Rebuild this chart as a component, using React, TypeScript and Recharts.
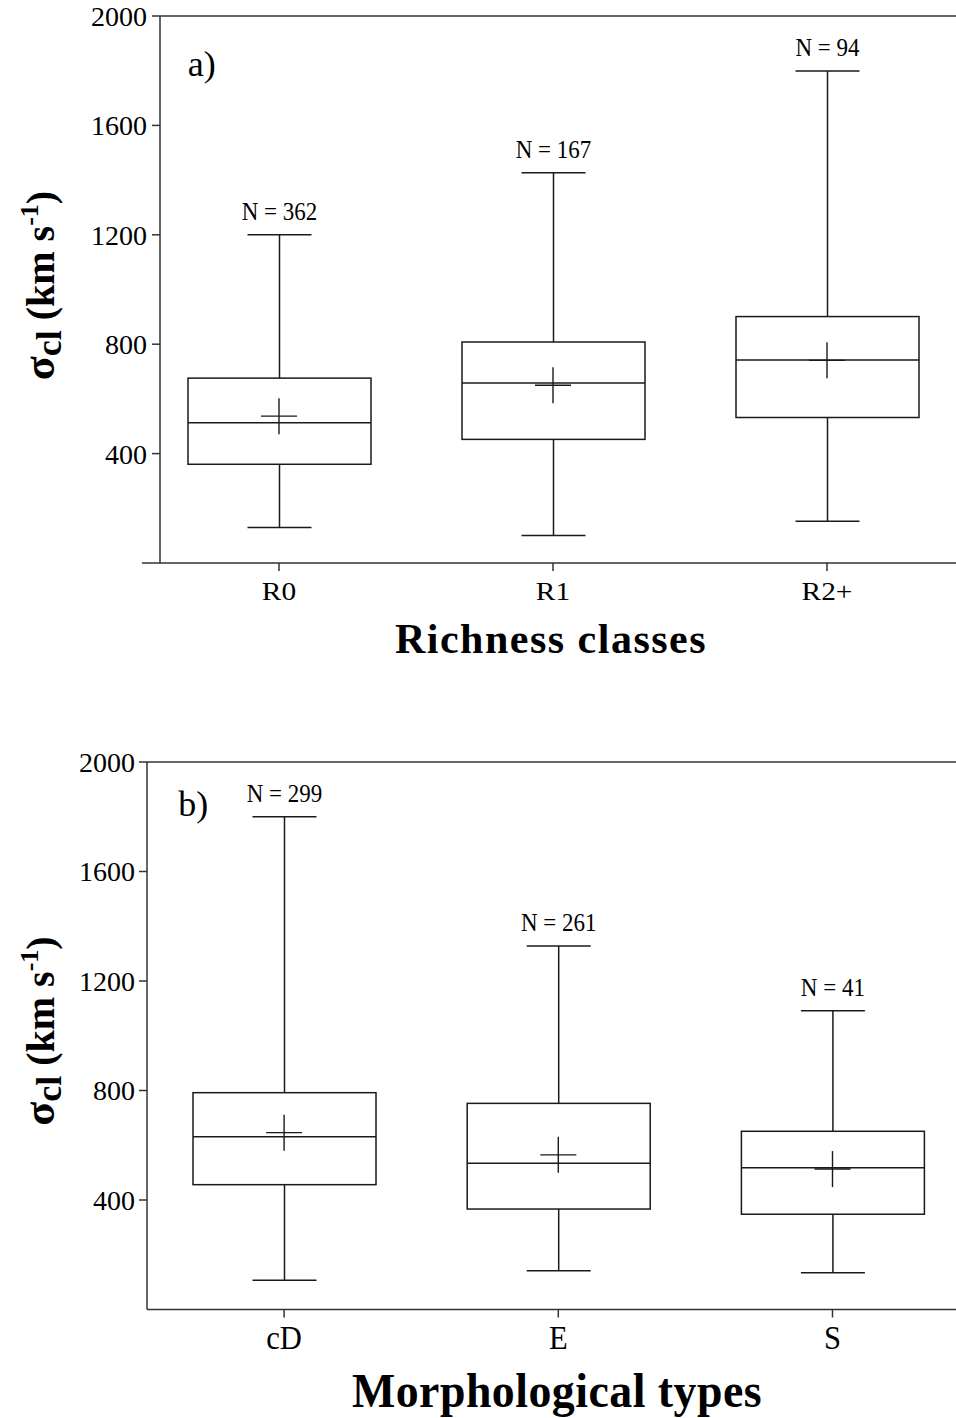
import React from 'react';
import { ComposedChart, Bar, Scatter, XAxis, YAxis, ReferenceLine, LabelList } from 'recharts';

// Panel a) richness classes
const richnessClasses = ['R0', 'R1', 'R2+'];
const richnessMin = [130, 101, 153];
const richnessQ1 = [361, 452, 532];
const richnessMedian = [513, 658, 742];
const richnessQ3 = [676, 808, 901];
const richnessMax = [1200, 1427, 1799];
const richnessMean = [537, 650, 741];
const richnessN = [362, 167, 94];

// Panel b) morphological types
const morphTypes = ['cD', 'E', 'S'];
const morphMin = [107, 142, 134];
const morphQ1 = [456, 367, 348];
const morphMedian = [631, 534, 518];
const morphQ3 = [792, 753, 651];
const morphMax = [1800, 1328, 1091];
const morphMean = [646, 565, 513];
const morphN = [299, 261, 41];

const yTicks = [400, 800, 1200, 1600, 2000];

const SERIF = "'Liberation Serif', 'Times New Roman', serif";
const AXIS = '#333';
const INK = '#1a1a1a';

function buildRows(names, mins, q1s, meds, q3s, maxs, means, ns) {
  return names.map((name, i) => ({
    name,
    range: [mins[i], maxs[i]],
    min: mins[i],
    q1: q1s[i],
    median: meds[i],
    q3: q3s[i],
    max: maxs[i],
    mean: means[i],
    n: ns[i],
  }));
}

const richnessRows = buildRows(richnessClasses, richnessMin, richnessQ1, richnessMedian, richnessQ3, richnessMax, richnessMean, richnessN);
const morphRows = buildRows(morphTypes, morphMin, morphQ1, morphMedian, morphQ3, morphMax, morphMean, morphN);

const BoxShape = (props: any) => {
  const { x, y, width, height, payload } = props;
  if (x == null || y == null || !payload) return null;
  const top = Math.min(y, y + height);
  const h = Math.abs(height);
  const { min, max, q1, median, q3 } = payload;
  const py = (v: number) => top + (h * (max - v)) / (max - min);
  const cx = x + width / 2;
  const cap = 32;
  return (
    <g stroke={INK} strokeWidth={1.5} fill="none">
      <line x1={cx} x2={cx} y1={py(max)} y2={py(q3)} />
      <line x1={cx} x2={cx} y1={py(q1)} y2={py(min)} />
      <line x1={cx - cap} x2={cx + cap} y1={py(max)} y2={py(max)} />
      <line x1={cx - cap} x2={cx + cap} y1={py(min)} y2={py(min)} />
      <rect x={x} y={py(q3)} width={width} height={py(q1) - py(q3)} fill="#fff" />
      <line x1={x} x2={x + width} y1={py(median)} y2={py(median)} />
    </g>
  );
};

const MeanCross = (props: any) => {
  const { cx, cy } = props;
  if (cx == null || cy == null) return null;
  return (
    <g stroke={INK} strokeWidth={1.4}>
      <line x1={cx - 18} x2={cx + 18} y1={cy} y2={cy} />
      <line x1={cx} x2={cx} y1={cy - 18} y2={cy + 18} />
    </g>
  );
};

const NLabel = (props: any) => {
  const vb = props.viewBox && props.viewBox.width != null ? props.viewBox : props;
  const x = vb.x;
  const y = Math.min(vb.y, vb.y + (vb.height || 0));
  const w = vb.width;
  if (x == null || y == null) return null;
  const cx = x + w / 2;
  const by = y - 15;
  return (
    <text
      x={0}
      y={0}
      transform={`translate(${cx},${by}) scale(0.92,1)`}
      textAnchor="middle"
      fontSize={25}
      fontFamily={SERIF}
      fill="#000"
    >
      {`N = ${props.value}`}
    </text>
  );
};

const makeXTick = (fontSize: number, sx: number, dy: number) => (props: any) => {
  const { x, y, payload } = props;
  return (
    <text
      x={0}
      y={0}
      transform={`translate(${x},${y + dy}) scale(${sx},1)`}
      textAnchor="middle"
      fontSize={fontSize}
      fontFamily={SERIF}
      fill="#000"
    >
      {payload.value}
    </text>
  );
};

const AxisStub = (props: any) => {
  const { x1, x2, y1, y2 } = props;
  return <line x1={Math.min(x1, x2) - 18} x2={Math.max(x1, x2)} y1={y1} y2={y2} stroke={AXIS} strokeWidth={1.5} />;
};

function Panel({ rows, top, height, margin, yWidth, tickMargin, xPadLeft, stub, xTick }: any) {
  return (
    <div style={{ position: 'absolute', left: 0, top, width: 956, height }}>
      <ComposedChart width={956} height={height} data={rows} margin={margin}>
        <XAxis
          dataKey="name"
          type="category"
          height={50}
          padding={{ left: xPadLeft, right: 0 }}
          axisLine={stub ? false : { stroke: AXIS, strokeWidth: 1.5 }}
          tickLine={{ stroke: AXIS, strokeWidth: 1.5 }}
          tickSize={8}
          tickMargin={0}
          tick={xTick}
          interval={0}
        />
        <YAxis
          type="number"
          domain={[0, 2000]}
          ticks={yTicks}
          width={yWidth}
          tickSize={8}
          tickMargin={tickMargin}
          axisLine={{ stroke: AXIS, strokeWidth: 1.5 }}
          tickLine={{ stroke: AXIS, strokeWidth: 1.5 }}
          tick={{ fontSize: 28, fill: '#000', fontFamily: SERIF }}
          interval={0}
        />
        <ReferenceLine y={2000} stroke={AXIS} strokeWidth={1.5} />
        {stub ? <ReferenceLine y={0} shape={AxisStub} /> : null}
        <Bar dataKey="range" barSize={183} shape={BoxShape} isAnimationActive={false}>
          <LabelList dataKey="n" content={NLabel} />
        </Bar>
        <Scatter dataKey="mean" shape={MeanCross} isAnimationActive={false} />
      </ComposedChart>
    </div>
  );
}

export default function App() {
  return (
    <div style={{ position: 'fixed', left: 0, top: 0, width: 956, height: 1418, background: '#fff', overflow: 'hidden' }}>
      <Panel
        rows={richnessRows}
        top={0}
        height={620}
        margin={{ top: 16, right: -8, bottom: 7, left: 0 }}
        yWidth={160}
        tickMargin={5}
        xPadLeft={-18}
        stub={true}
        xTick={makeXTick(26, 1.13, 28.5)}
      />
      <Panel
        rows={morphRows}
        top={700}
        height={680}
        margin={{ top: 62, right: -13.6, bottom: 20.5, left: 0 }}
        yWidth={147}
        tickMargin={4}
        xPadLeft={0}
        stub={false}
        xTick={makeXTick(34, 0.9, 31)}
      />
      <svg
        width={956}
        height={1418}
        style={{ position: 'absolute', left: 0, top: 0, pointerEvents: 'none' }}
      >
        <text x={187.7} y={76} fontSize={36} fontFamily={SERIF} fill="#000">a)</text>
        <text x={178.3} y={816} fontSize={36} fontFamily={SERIF} fill="#000">b)</text>

        <text x={551} y={653} textAnchor="middle" fontSize={42} fontWeight="bold" letterSpacing={1.5} fontFamily={SERIF} fill="#000">
          Richness classes
        </text>
        <text
          x={0}
          y={0}
          transform="translate(557,1407) scale(0.955,1)"
          textAnchor="middle"
          fontSize={48}
          fontWeight="bold"
          letterSpacing={0.5}
          fontFamily={SERIF}
          fill="#000"
        >
          Morphological types
        </text>

        {[285.5, 1031].map((cy, i) => (
          <text
            key={i}
            transform={`translate(54,${cy}) rotate(-90)`}
            textAnchor="middle"
            fontSize={40}
            fontWeight="bold"
            fontFamily={SERIF}
            fill="#000"
          >
            <tspan fontSize={44}>σ</tspan>
            <tspan fontSize={36} dy={7}>cl</tspan>
            <tspan dy={-7}> (km s</tspan>
            <tspan fontSize={26} dy={-16}>-1</tspan>
            <tspan dy={16}>)</tspan>
          </text>
        ))}
      </svg>
    </div>
  );
}
